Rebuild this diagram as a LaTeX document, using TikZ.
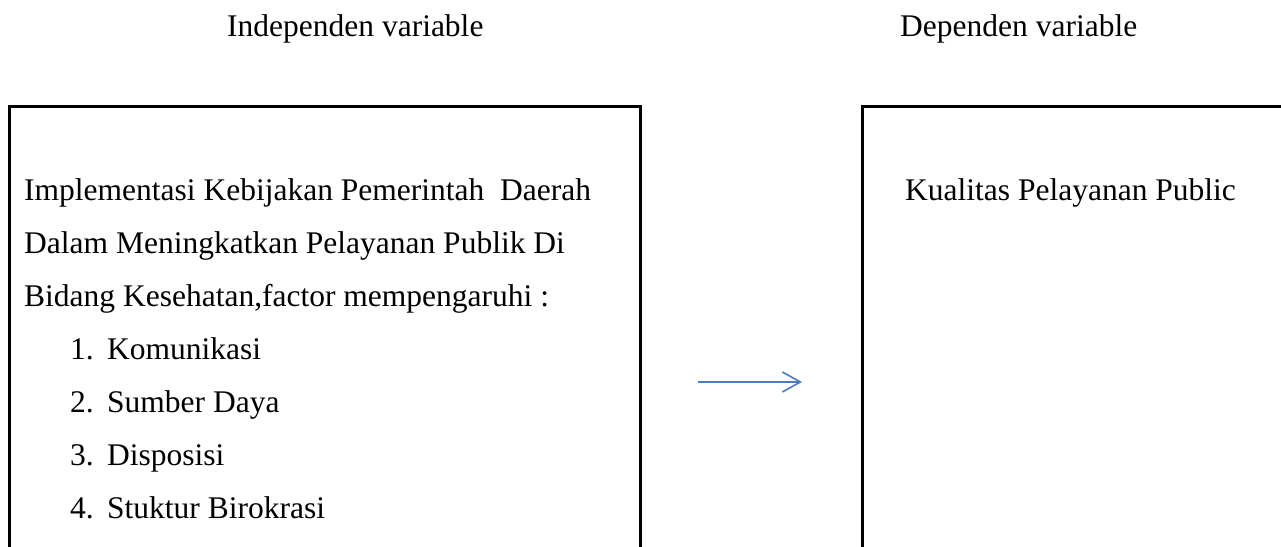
\documentclass[tikz,border=0pt]{standalone}
\usepackage{fontspec}
\setmainfont{Liberation Serif}
\usetikzlibrary{arrows.meta}
\definecolor{arrowblue}{HTML}{4A7EBB}
\begin{document}
\begin{tikzpicture}[x=1pt,y=-1pt,
  txt/.style={anchor=base west, inner sep=0pt, font=\fontsize{31.5}{36}\selectfont},
  frame/.style={draw=black, line width=2.5pt, minimum height=520pt, anchor=north west, inner sep=0pt},
  link/.style={draw=arrowblue, line width=1.6pt, -{Straight Barb[length=18pt,width=20pt]}}]
\useasboundingbox (0,0) rectangle (1281,546);
\fill[white] (0,0) rectangle (1281,546);
% headers
\node[txt] (h1) at (227,36) {Independen variable};
\node[txt] (h2) at (900,36) {Dependen variable};
% boxes
\node[frame, minimum width=631pt] (left) at (8,105) {};
\node[frame, minimum width=420pt] (right) at (861,105) {};
% left box text
\node[txt] (l1) at (24,200) {Implementasi Kebijakan Pemerintah\ \ Daerah};
\node[txt] (l2) at (24,253) {Dalam Meningkatkan Pelayanan Publik Di};
\node[txt] (l3) at (24,306) {Bidang Kesehatan,factor mempengaruhi :};
\node[txt] (n1) at (70,359) {1.};
\node[txt] (i1) at (107,359) {Komunikasi};
\node[txt] (n2) at (70,412) {2.};
\node[txt] (i2) at (107,412) {Sumber Daya};
\node[txt] (n3) at (70,465) {3.};
\node[txt] (i3) at (107,465) {Disposisi};
\node[txt] (n4) at (70,518) {4.};
\node[txt] (i4) at (107,518) {Stuktur Birokrasi};
% right box text
\node[txt] (r1) at (905,200) {Kualitas Pelayanan Public};
% arrow
\coordinate (a1) at (698,382);
\coordinate (a2) at (802,382);
\draw[link] (a1) -- (a2);
\end{tikzpicture}
\end{document}
